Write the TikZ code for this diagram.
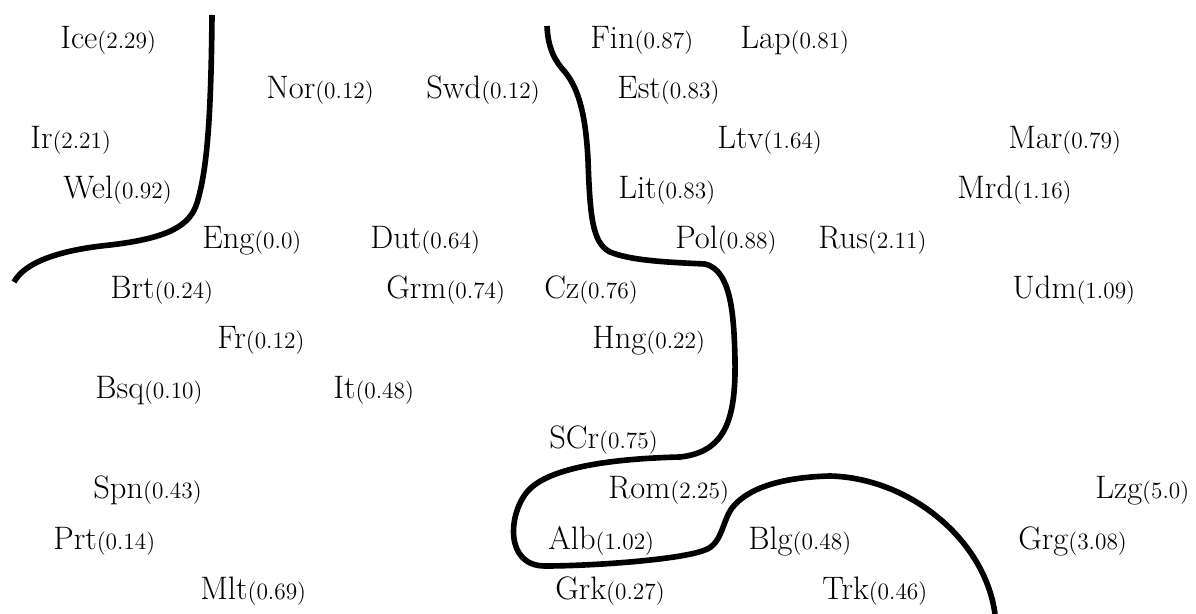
\documentclass[tikz,border=0pt]{standalone}
\usepackage{tikz}
\usetikzlibrary{positioning}

% name with its value set smaller behind it
\newcommand{\lngval}[2]{#1{\fontsize{13.3}{15}\selectfont(#2)}}

\begin{document}
\begin{tikzpicture}[
    x=0.02cm, y=-0.02cm,
    lang/.style={anchor=base west, inner sep=0pt, font=\fontsize{18.5}{21}\selectfont},
    border/.style={line width=3.2pt, line cap=butt}
]
\useasboundingbox (0,0) rectangle (1196,614);

% row 1
\node[lang] (ice) at (60,49)  {\lngval{Ice}{2.29}};
\node[lang] (fin) at (590,49) {\lngval{Fin}{0.87}};
\node[lang] (lap) at (740,49) {\lngval{Lap}{0.81}};
% row 2
\node[lang] (nor) at (266,99) {\lngval{Nor}{0.12}};
\node[lang] (swd) at (426,99) {\lngval{Swd}{0.12}};
\node[lang] (est) at (617,99) {\lngval{Est}{0.83}};
% row 3
\node[lang] (ir)  at (30,149)   {\lngval{Ir}{2.21}};
\node[lang] (ltv) at (717,149)  {\lngval{Ltv}{1.64}};
\node[lang] (mar) at (1008,149) {\lngval{Mar}{0.79}};
% row 4
\node[lang] (wel) at (63,199)  {\lngval{Wel}{0.92}};
\node[lang] (lit) at (618,199) {\lngval{Lit}{0.83}};
\node[lang] (mrd) at (957,199) {\lngval{Mrd}{1.16}};
% row 5
\node[lang] (eng) at (202,249) {\lngval{Eng}{0.0}};
\node[lang] (dut) at (370,249) {\lngval{Dut}{0.64}};
\node[lang] (pol) at (675,249) {\lngval{Pol}{0.88}};
\node[lang] (rus) at (818,249) {\lngval{Rus}{2.11}};
% row 6
\node[lang] (brt) at (110,299)  {\lngval{Brt}{0.24}};
\node[lang] (grm) at (386,299)  {\lngval{Grm}{0.74}};
\node[lang] (cz)  at (544,299)  {\lngval{Cz}{0.76}};
\node[lang] (udm) at (1012,299) {\lngval{Udm}{1.09}};
% row 7
\node[lang] (fr)  at (217,349) {\lngval{Fr}{0.12}};
\node[lang] (hng) at (592,349) {\lngval{Hng}{0.22}};
% row 8
\node[lang] (bsq) at (95,399)  {\lngval{Bsq}{0.10}};
\node[lang] (it)  at (333,399) {\lngval{It}{0.48}};
% row 9
\node[lang] (scr) at (549,449) {\lngval{SCr}{0.75}};
% row 10
\node[lang] (spn) at (93,499)   {\lngval{Spn}{0.43}};
\node[lang] (rom) at (608,499)  {\lngval{Rom}{2.25}};
\node[lang] (lzg) at (1095,499) {\lngval{Lzg}{5.0}};
% row 11
\node[lang] (prt) at (53,549)   {\lngval{Prt}{0.14}};
\node[lang] (alb) at (548,549)  {\lngval{Alb}{1.02}};
\node[lang] (blg) at (748,549)  {\lngval{Blg}{0.48}};
\node[lang] (grg) at (1018,549) {\lngval{Grg}{3.08}};
% row 12
\node[lang] (mlt) at (200,599) {\lngval{Mlt}{0.69}};
\node[lang] (grk) at (555,599) {\lngval{Grk}{0.27}};
\node[lang] (trk) at (822,599) {\lngval{Trk}{0.46}};

% western boundary
\draw[border] (212,15) .. controls (211,120) and (207,170) .. (197,203)
    .. controls (190,225) and (170,238) .. (110,245)
    .. controls (60,250) and (25,262) .. (14,282);

% eastern boundary
\draw[border] (547,26) .. controls (548,50) and (556,62) .. (565,72)
    .. controls (580,90) and (586,120) .. (588,160)
    .. controls (590,215) and (592,243) .. (610,252)
    .. controls (630,260) and (660,262) .. (705,264)
    .. controls (730,270) and (734,310) .. (735,360)
    .. controls (736,420) and (725,452) .. (680,457)
    .. controls (600,459) and (545,470) .. (527,492)
    .. controls (508,515) and (505,566) .. (545,566)
    .. controls (590,566) and (680,560) .. (705,550)
    .. controls (722,544) and (722,522) .. (732,508)
    .. controls (750,485) and (790,477) .. (830,476)
    .. controls (910,478) and (985,540) .. (995,614);
\end{tikzpicture}
\end{document}
